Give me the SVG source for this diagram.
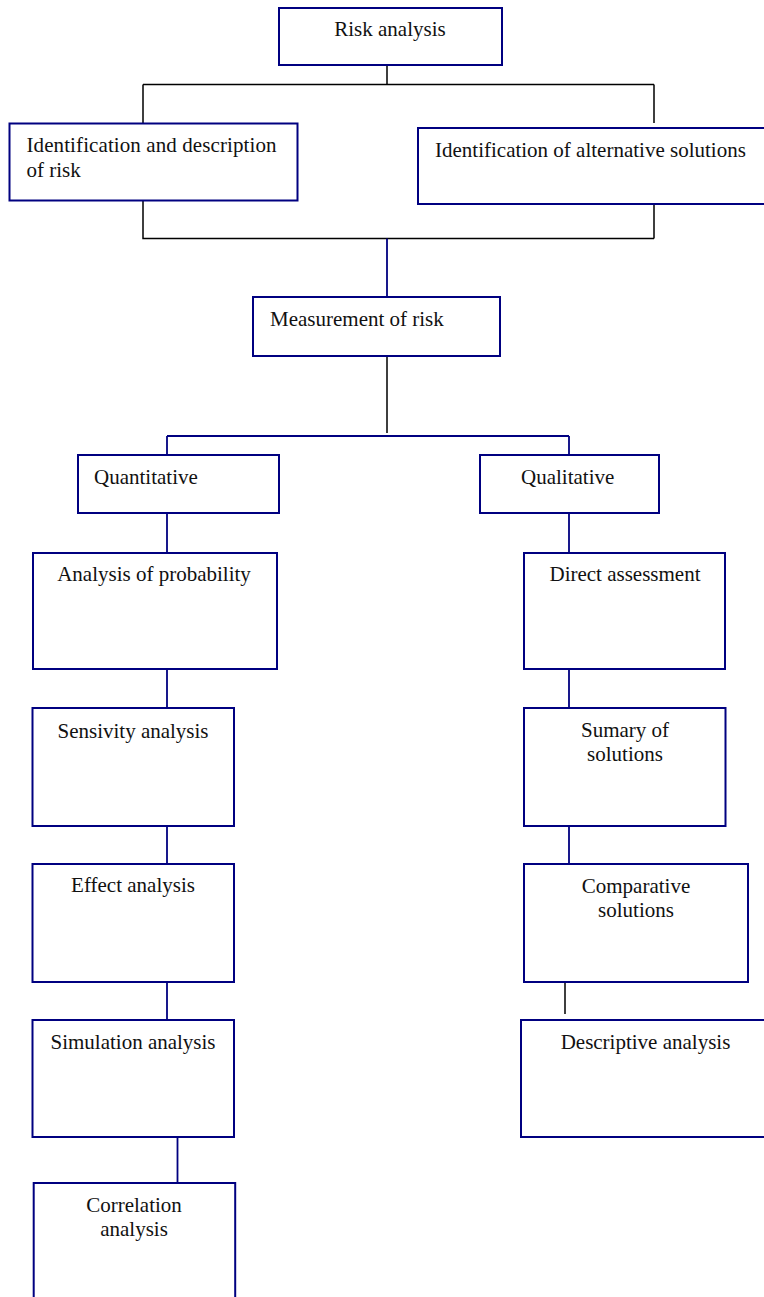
<svg xmlns="http://www.w3.org/2000/svg" width="764" height="1297" viewBox="0 0 764 1297">
<style>
.box{fill:#fff;stroke:#000080;stroke-width:2}
.t{font-family:"Liberation Serif","Times New Roman",serif;font-size:21px;fill:#111}
.m{text-anchor:middle}
.k{fill:none;stroke:#000;stroke-width:1.5}
.b{fill:none;stroke:#000080;stroke-width:1.8}
</style>
<rect width="764" height="1297" fill="#fff"/>
<g id="connectors">
<path class="k" d="M387,65V84.5M143,84.5H654M143,84.5V123M654,84.5V123M143,201V238.5H654M654,200V238.5M387,356V433M565,975V1014"/>
<path class="b" d="M387,238.5V297M167,436H569M167,436V455M569,436V455M167,513V553M569,513V553M167,669V708M569,669V708M167,826V864M569,826V864M167,982V1020M177.5,1135V1183"/>
</g>
<g id="risk-analysis"><rect class="box" x="279" y="8" width="223" height="57"/><text class="t m" x="390" y="35.5">Risk analysis</text></g>
<g id="identification-description"><rect class="box" x="9.5" y="123.5" width="288" height="77"/><text class="t" x="26.5" y="152" textLength="250" lengthAdjust="spacing">Identification and description</text><text class="t" x="26.5" y="177">of risk</text></g>
<g id="identification-alternatives"><rect class="box" x="418" y="128" width="360" height="76"/><text class="t" x="435" y="157">Identification of alternative solutions</text></g>
<g id="measurement"><rect class="box" x="253" y="297" width="247" height="59"/><text class="t" x="270" y="326">Measurement of risk</text></g>
<g id="quantitative"><rect class="box" x="78" y="455" width="201" height="58"/><text class="t" x="94" y="484">Quantitative</text></g>
<g id="qualitative"><rect class="box" x="480" y="455" width="179" height="58"/><text class="t" x="521" y="484">Qualitative</text></g>
<g id="analysis-probability"><rect class="box" x="33" y="553" width="244" height="116"/><text class="t m" x="154" y="581">Analysis of probability</text></g>
<g id="direct-assessment"><rect class="box" x="524" y="553" width="201" height="116"/><text class="t m" x="625" y="581">Direct assessment</text></g>
<g id="sensivity"><rect class="box" x="32.5" y="708" width="201.5" height="118"/><text class="t m" x="133" y="738">Sensivity analysis</text></g>
<g id="sumary"><rect class="box" x="524" y="708" width="201.5" height="118"/><text class="t m" x="625" y="737">Sumary of</text><text class="t m" x="625" y="761">solutions</text></g>
<g id="effect"><rect class="box" x="32.5" y="864" width="201.5" height="118"/><text class="t m" x="133" y="892">Effect analysis</text></g>
<g id="comparative"><rect class="box" x="524" y="864" width="224" height="118"/><text class="t m" x="636" y="893">Comparative</text><text class="t m" x="636" y="917">solutions</text></g>
<g id="simulation"><rect class="box" x="32.5" y="1020" width="201.5" height="117"/><text class="t m" x="133" y="1049">Simulation analysis</text></g>
<g id="descriptive"><rect class="box" x="521" y="1020" width="260" height="117"/><text class="t m" x="645.5" y="1049">Descriptive analysis</text></g>
<g id="correlation"><rect class="box" x="33.7" y="1183" width="201.5" height="130"/><text class="t m" x="134" y="1212">Correlation</text><text class="t m" x="134" y="1236">analysis</text></g>
</svg>
